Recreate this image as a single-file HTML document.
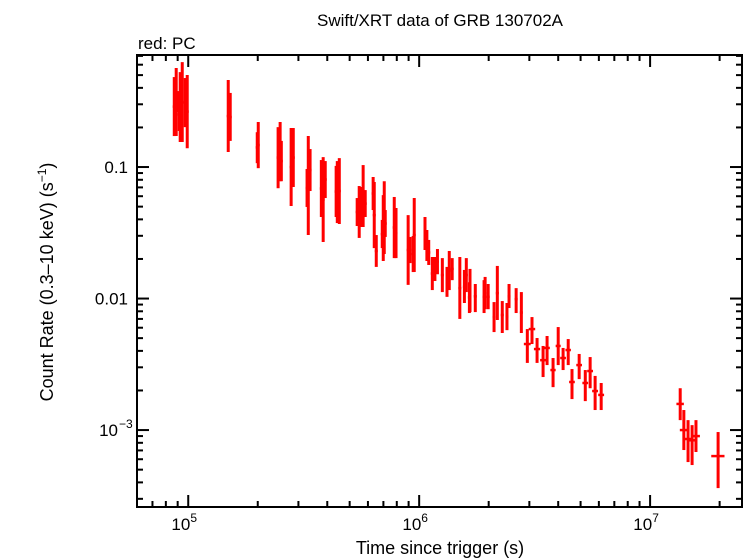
<!DOCTYPE html>
<html><head><meta charset="utf-8"><style>
body{margin:0;background:#fff;}
svg{display:block;font-family:"Liberation Sans",sans-serif;}
</style></head><body>
<svg id="chart" width="746" height="558" viewBox="0 0 746 558" xmlns="http://www.w3.org/2000/svg">
<text x="440" y="26" font-size="17" text-anchor="middle">Swift/XRT data of GRB 130702A</text>
<text x="138" y="49" font-size="17">red: PC</text>
<g id="axes"></g>
<g id="marks"></g>
<rect x="137" y="55" width="605" height="452" fill="none" stroke="#000" stroke-width="2"/>
<text x="440" y="554" font-size="18" text-anchor="middle">Time since trigger (s)</text>
<text transform="translate(53,282) rotate(-90)" font-size="18" text-anchor="middle">Count Rate (0.3–10 keV) (s<tspan dy="-7" font-size="12">−1</tspan><tspan dy="7">)</tspan></text>
</svg>
<script>
const times=[8.7e4,8.87e4,9.0e4,9.14e4,9.23e4,9.42e4,9.7e4,9.9e4,1.49e5,1.52e5,1.99e5,2.01e5,2.45e5,2.50e5,2.53e5,2.79e5,2.85e5,3.27e5,3.31e5,3.37e5,3.77e5,3.84e5,3.92e5,4.37e5,4.42e5,4.51e5,5.39e5,5.50e5,5.61e5,5.72e5,5.84e5,6.32e5,6.39e5,6.52e5,6.92e5,6.99e5,7.06e5,7.13e5,7.80e5,7.94e5,8.96e5,9.14e5,9.42e5,9.52e5,1.06e6,1.08e6,1.10e6,1.14e6,1.17e6,1.20e6,1.26e6,1.32e6,1.35e6,1.39e6,1.50e6,1.57e6,1.60e6,1.65e6,1.66e6,1.75e6,1.91e6,1.93e6,1.99e6,2.11e6,2.18e6,2.29e6,2.40e6,2.45e6,2.63e6,2.77e6,2.94e6,3.08e6,3.24e6,3.44e6,3.58e6,3.80e6,4.00e6,4.20e6,4.42e6,4.59e6,4.93e6,5.24e6,5.50e6,5.78e6,6.14e6,1.35e7,1.40e7,1.46e7,1.52e7,1.58e7,1.97e7];
const rates=[0.288,0.312,0.315,0.251,0.286,0.312,0.309,0.264,0.244,0.240,0.141,0.147,0.118,0.131,0.111,0.100,0.118,0.0692,0.0723,0.0949,0.0687,0.0566,0.0804,0.0651,0.0645,0.0657,0.0455,0.0455,0.0497,0.0602,0.0527,0.0629,0.0431,0.023,0.0309,0.0344,0.0413,0.0372,0.0347,0.0315,0.0234,0.0234,0.0218,0.0304,0.0312,0.0253,0.0224,0.0155,0.0168,0.0191,0.0151,0.0133,0.0163,0.0168,0.012,0.0123,0.0151,0.0102,0.0115,0.0104,0.0103,0.011,0.0103,0.00723,0.011,0.0075,0.0073,0.0104,0.0099,0.00783,0.00451,0.00586,0.00413,0.0034,0.00421,0.00286,0.00436,0.00353,0.00406,0.00232,0.00312,0.00228,0.00281,0.00198,0.00185,0.00158,0.001,0.000855,0.000836,0.0009,0.000634];
const ratesHi=[0.483,0.566,0.378,0.335,0.527,0.628,0.475,0.501,0.459,0.366,0.184,0.220,0.201,0.220,0.158,0.198,0.198,0.0966,0.172,0.137,0.113,0.119,0.111,0.102,0.111,0.117,0.0581,0.0717,0.0705,0.1035,0.0668,0.084,0.0769,0.0304,0.0396,0.0612,0.078,0.0471,0.0592,0.0488,0.0431,0.0294,0.0299,0.0581,0.0417,0.0332,0.0279,0.0207,0.0207,0.0238,0.0203,0.0174,0.023,0.0203,0.0207,0.0165,0.0203,0.0133,0.0168,0.0129,0.0138,0.0146,0.0129,0.0094,0.0177,0.00957,0.00925,0.0129,0.012,0.0112,0.00586,0.00723,0.00501,0.00436,0.00519,0.00353,0.00607,0.00421,0.00492,0.00291,0.00379,0.00286,0.00359,0.00258,0.00228,0.00208,0.00142,0.00119,0.00109,0.00119,0.000966];
const ratesLo=[0.172,0.172,0.262,0.188,0.155,0.155,0.201,0.139,0.130,0.158,0.107,0.098,0.069,0.078,0.078,0.0505,0.0705,0.0497,0.0304,0.0657,0.0417,0.0269,0.0581,0.0417,0.0375,0.0369,0.0356,0.0289,0.035,0.035,0.0417,0.0471,0.0242,0.0174,0.0242,0.0193,0.0218,0.0294,0.0203,0.0203,0.0127,0.0186,0.0159,0.0159,0.0234,0.0193,0.018,0.0116,0.0136,0.0153,0.0112,0.0103,0.0116,0.0138,0.0070,0.00925,0.0112,0.00776,0.00789,0.00789,0.00776,0.0083,0.0083,0.00556,0.00687,0.00547,0.00575,0.00847,0.00776,0.00547,0.00324,0.00451,0.00324,0.00253,0.00312,0.00212,0.00312,0.00286,0.00312,0.00172,0.00244,0.00166,0.00208,0.00142,0.00142,0.00119,0.000705,0.000571,0.000542,0.000681,0.000362];
const timeErr=[0,0,0,0,0,0,0,0,0,0,0,0,0,0,0,0,0,0,0,0,0,0,0,0,0,0,0,0,0,0,0,0,0,0,0,0,0,0,0,0,0,0,0,0,0,0,0,0,0,0,0,0,0,0,0,0,0,0,0,0,0,0,0,0,0,0,0,0,0,0,1e5,1e5,1e5,1e5,1e5,1e5,1e5,1.2e5,1.2e5,1.3e5,1.4e5,1.5e5,1.6e5,1.7e5,1.8e5,5e5,5.5e5,5.8e5,6e5,6.3e5,1.3e6];
const xTickLabels=["10","10","10"];
const xTickExps=["5","6","7"];
const xMajors=[1e5,1e6,1e7];
const yMajors=[0.1,0.01,0.001];
const yTickLabels=["0.1","0.01","10"];

const X0=137,X1=742,Y0=55,Y1=507;
const xMin=Math.log10(6.0e4),xMax=Math.log10(2.5e7);
const yMin=Math.log10(2.6e-4),yMax=Math.log10(0.711);
function xs(t){return X0+(Math.log10(t)-xMin)/(xMax-xMin)*(X1-X0);}
function ys(r){return Y1-(Math.log10(r)-yMin)/(yMax-yMin)*(Y1-Y0);}
const NS="http://www.w3.org/2000/svg";
const axes=document.getElementById('axes'),marks=document.getElementById('marks');
function line(p,x1,y1,x2,y2,w,c){const l=document.createElementNS(NS,'line');l.setAttribute('x1',x1);l.setAttribute('y1',y1);l.setAttribute('x2',x2);l.setAttribute('y2',y2);l.setAttribute('stroke',c);l.setAttribute('stroke-width',w);p.appendChild(l);return l;}
for(let e=4;e<=7;e++){for(let m=1;m<10;m++){const t=m*Math.pow(10,e);const x=xs(t);if(x<X0||x>X1)continue;const L=m==1?12:6;
 let a=line(axes,x,Y1,x,Y1-L,2,'#000');
 let b=line(axes,x,Y0,x,Y0+L,2,'#000');}}
for(let e=-4;e<=0;e++){for(let m=1;m<10;m++){const r=m*Math.pow(10,e);const y=ys(r);if(y<Y0||y>Y1)continue;const L=m==1?12:6;
 let a=line(axes,X0,y,X0+L,y,2,'#000');
 let b=line(axes,X1,y,X1-L,y,2,'#000');}}
xMajors.forEach((t,i)=>{const tx=document.createElementNS(NS,'text');tx.setAttribute('x',xs(t)-4);tx.setAttribute('y',530);tx.setAttribute('font-size','17');tx.setAttribute('text-anchor','middle');
 
 
 tx.innerHTML=xTickLabels[i]+'<tspan dy="-8" font-size="12">'+xTickExps[i]+'</tspan>';axes.appendChild(tx);});
yMajors.forEach((r,i)=>{const tx=document.createElementNS(NS,'text');tx.setAttribute('x',i==2?118:128);tx.setAttribute('y',ys(r)+6);tx.setAttribute('font-size','17');tx.setAttribute('text-anchor','end');
 
 
 tx.textContent=yTickLabels[i];axes.appendChild(tx);
 if(i==2){const s=document.createElementNS(NS,'text');s.setAttribute('x',119);s.setAttribute('y',ys(r)-2);s.setAttribute('font-size','12');s.textContent='−3';
 
 
 axes.appendChild(s);}});
times.forEach((t,i)=>{const g=document.createElementNS(NS,'g');
 
 
 const x=xs(t);line(g,x,ys(ratesHi[i]),x,ys(ratesLo[i]),3,'#f00');
 let xa=timeErr[i]>0?xs(t-timeErr[i]):x-1.5, xb=timeErr[i]>0?xs(t+timeErr[i]):x+1.5;
 line(g,xa,ys(rates[i]),xb,ys(rates[i]),2.5,'#f00');marks.appendChild(g);});
</script>
</body></html>
